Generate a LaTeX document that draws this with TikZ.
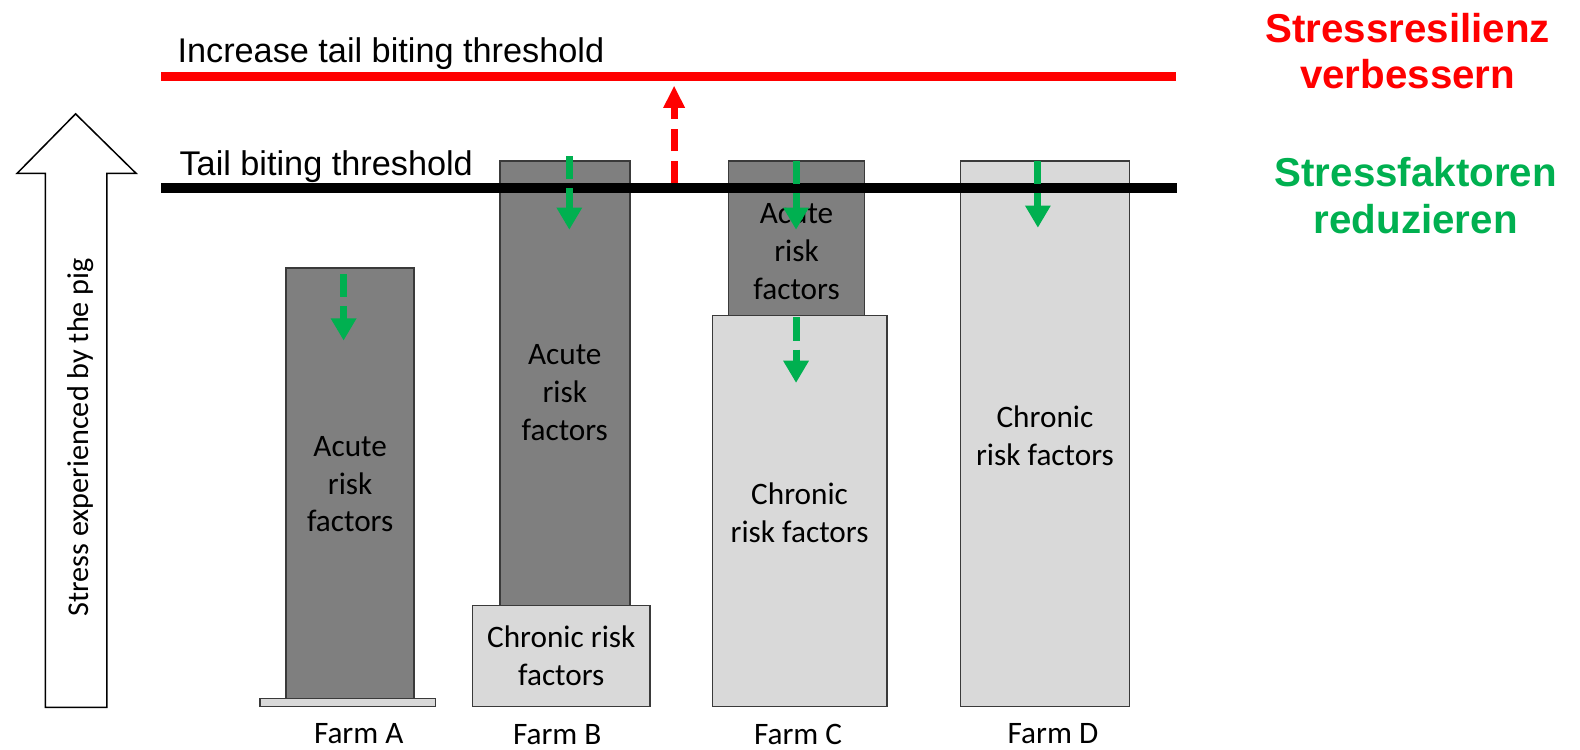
\documentclass[tikz,border=0pt]{standalone}
\usepackage{fontspec}
\setmainfont{Carlito}
\newfontfamily\arialf{Liberation Sans}
\usetikzlibrary{arrows.meta}
\definecolor{darkbar}{HTML}{7F7F7F}
\definecolor{lightbar}{HTML}{D9D9D9}
\definecolor{barline}{HTML}{3A3A3A}
\definecolor{pgreen}{HTML}{00B050}
\definecolor{pred}{HTML}{FF0000}
\tikzset{
  barbase/.style={draw=barline, line width=1.5pt, inner sep=0pt, outer sep=0pt, anchor=north west},
  darkbox/.style={barbase, fill=darkbar},
  lightbox/.style={barbase, fill=lightbar},
  boxtext/.style={align=center, inner sep=0pt, font=\fontsize{31}{37.5}\selectfont},
  farmlabel/.style={font=\fontsize{31}{37.5}\selectfont, inner sep=0pt},
  greenarrow/.style={draw=pgreen, line width=7pt, dash pattern=on 23pt off 9pt,
    -{Triangle[width=24pt,length=22pt]}},
  redarrow/.style={draw=pred, line width=7pt, dash pattern=on 22pt off 10pt,
    -{Triangle[width=20pt,length=22pt]}},
  thresh/.style={font=\arialf\fontsize{34}{40}\selectfont, anchor=west, inner sep=0pt},
  bigtext/.style={font=\arialf\bfseries\fontsize{40}{46}\selectfont, align=center, inner sep=0pt}
}
\begin{document}
\begin{tikzpicture}[x=1pt,y=-1pt]
\useasboundingbox (0,0) rectangle (1568,744);

% big stress arrow
\draw[line width=1.5pt, fill=white] (45,702) -- (45,172) -- (17,172) -- (75,113) -- (135,172) -- (106,172) -- (106,702) -- cycle;
\node[rotate=90, font=\fontsize{30}{36}\selectfont, inner sep=0pt] (stresslbl) at (80,434) {Stress experienced by the pig};

% Farm A
\node[lightbox, minimum width=174pt, minimum height=8pt] (abase) at (258,693) {};
\node[darkbox, minimum width=127pt, minimum height=427pt] (aacute) at (284,266) {};
\node[boxtext] (aacutet) at ([yshift=-1pt]aacute.center) {Acute\\risk\\factors};
\node[farmlabel] (farmA) at (356,728) {Farm A};

% Farm B
\node[lightbox, minimum width=176pt, minimum height=100pt] (bchron) at (469,601) {};
\node[boxtext] (bchront) at ([yshift=0pt]bchron.center) {Chronic risk\\factors};
\node[darkbox, minimum width=129pt, minimum height=441pt] (bacute) at (496,160) {};
\node[boxtext] (bacutet) at ([yshift=-9pt]bacute.center) {Acute\\risk\\factors};
\node[farmlabel] (farmB) at (553,729) {Farm B};

% Farm C
\node[lightbox, minimum width=173pt, minimum height=388pt] (cchron) at (707,313) {};
\node[boxtext] (cchront) at ([yshift=-2pt]cchron.center) {Chronic\\risk factors};
\node[darkbox, minimum width=135pt, minimum height=153pt] (cacute) at (723,160) {};
\node[boxtext] (cacutet) at ([yshift=-13pt]cacute.center) {Acute\\risk\\factors};
\node[farmlabel] (farmC) at (792,729) {Farm C};

% Farm D
\node[lightbox, minimum width=168pt, minimum height=541pt] (dchron) at (953,160) {};
\node[boxtext] (dchront) at ([yshift=-2pt]dchron.center) {Chronic\\risk factors};
\node[farmlabel] (farmD) at (1045,728) {Farm D};

% thresholds
\coordinate (redL) at (160,76);
\coordinate (redR) at (1167,76);
\coordinate (blkL) at (160,187);
\coordinate (blkR) at (1168,187);
\draw[pred, line width=9pt] (redL) -- (redR);
\draw[black, line width=10pt] (blkL) -- (blkR);
\node[thresh] (inclbl) at (176,53) {Increase tail biting threshold};
\node[thresh] (tbtlbl) at (178,165) {Tail biting threshold};

% red arrow
\coordinate (rs) at (669,182);
\coordinate (re) at (669,85);
\draw[redarrow] (rs) -- (re);

% green arrows
\coordinate (ga1) at (341,272); \coordinate (ga2) at (341,338);
\coordinate (gb1) at (565,155); \coordinate (gb2) at (565,228);
\coordinate (gc1) at (790,160); \coordinate (gc2) at (790,228);
\coordinate (gc3) at (790,315); \coordinate (gc4) at (790,380);
\coordinate (gd1) at (1030,160); \coordinate (gd2) at (1030,226);
\draw[greenarrow] (ga1) -- (ga2);
\draw[greenarrow] (gb1) -- (gb2);
\draw[greenarrow] (gc1) -- (gc2);
\draw[greenarrow] (gc3) -- (gc4);
\draw[greenarrow] (gd1) -- (gd2);

% side texts
\node[bigtext, text=pred] (resil) at (1397,51) {Stressresilienz\\verbessern};
\node[bigtext, text=pgreen] (reduz) at (1405,194) {Stressfaktoren\\reduzieren};
\end{tikzpicture}
\end{document}
